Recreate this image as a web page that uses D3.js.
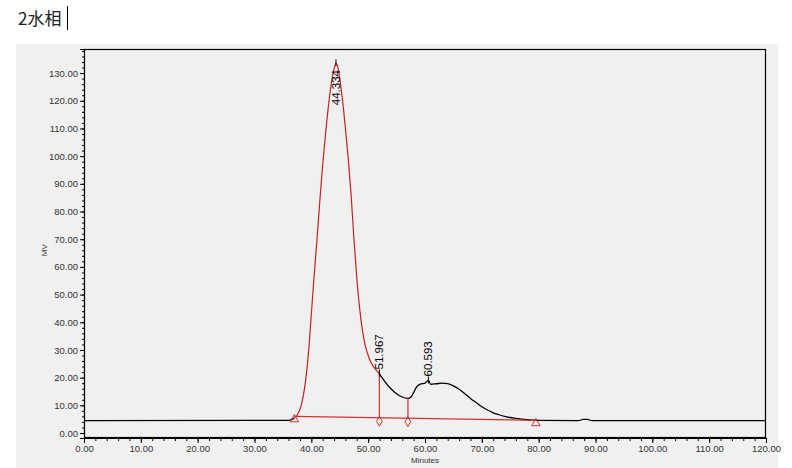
<!DOCTYPE html>
<html><head><meta charset="utf-8">
<script src="https://cdn.jsdelivr.net/npm/d3@7"></script>
<style>html,body{margin:0;padding:0;background:#fff;}svg{display:block;}</style>
</head><body>
<script>
// ---- data ----
const title = "2水相";
const xLabel = "Minutes";
const yLabel = "MV";
const xTicks = [0,10,20,30,40,50,60,70,80,90,100,110,120];
const yTicks = [0,10,20,30,40,50,60,70,80,90,100,110,120,130];
const times = [0,36,37,37.5,38,38.5,39,39.5,40,40.5,41,41.5,42,42.5,43,43.5,44,44.334,44.7,45,45.5,46,46.5,47,47.5,48,48.5,49,49.5,50,50.5,51,51.5,51.967,
  52.5,53,54,55,56,57,57.5,58,58.5,59,59.5,60,60.593,61,62,63,64,65,66,67,68,69,70,71,72,73,74,75,76,77,78,80,87,87.8,88.6,89.4,120];
const signal = [4.5,4.6,5.3,6.5,8.5,12.5,19,29,43,57,70,84,97,108,118,126,131.5,133.5,132,128,120,110,99,86,70,56,45,37,31.5,28,25.5,23.8,22.5,21.5,
  19.8,18.4,16,14.2,13,12.5,12.9,14.6,16.6,17.5,17.8,18,19,17.6,17.8,18,17.8,17,15.8,14.2,12.5,11,9.5,8.3,7.3,6.6,6.0,5.6,5.3,5.0,4.8,4.6,4.5,4.9,4.9,4.5,4.5];
const peakTimes = [44.334, 51.967, 60.593];
const peakLabels = ["44.334","51.967","60.593"];
const mainPeakStart = 37.0, mainPeakEnd = 51.967;
const dropTimes = [51.967, 57.0];
const baselineStart = [37.0, 6.0];
const baselineEnd = [79.5, 4.6];
const triangleTimes = [37.0, 79.5];
const diamondTimes = [51.967, 57.0];

// ---- layout ----
const W = 792, H = 468;
const svg = d3.select("body").append("svg").attr("width", W).attr("height", H);
svg.append("rect").attr("x",16).attr("y",44).attr("width",762).attr("height",H-44).attr("fill","#f0f0f0");
svg.append("text").attr("x",18).attr("y",25).attr("font-family","'Noto Sans CJK SC', sans-serif").attr("font-size",17).attr("fill","#222").text(title);
svg.append("line").attr("x1",67.5).attr("x2",67.5).attr("y1",6).attr("y2",30).attr("stroke","#000").attr("stroke-width",1);

const x = d3.scaleLinear().domain([0,120]).range([84,766]);
const y = d3.scaleLinear().domain([-1.8,138.7]).range([438,49]);

const font = "'Liberation Sans', Arial, sans-serif";
// frame
svg.append("rect").attr("x",84.5).attr("y",49.5).attr("width",681).attr("height",388).attr("fill","none").attr("stroke","#000").attr("stroke-width",1.2);

// axes
const minorX = d3.range(0,121,2);
const minorY = d3.range(0,139,2);
const gx = svg.append("g").attr("transform","translate(0,438)");
gx.call(d3.axisBottom(x).tickValues(minorX).tickSize(3).tickFormat(""));
gx.call(g=>g.select(".domain").remove());
const gx2 = svg.append("g").attr("transform","translate(0,438)");
gx2.call(d3.axisBottom(x).tickValues(xTicks).tickSize(5).tickPadding(2).tickFormat(d3.format(".2f")));
gx2.selectAll("text").attr("font-family",font).attr("font-size",9.5).attr("fill","#333");
gx2.select(".domain").attr("stroke","#000");

const gy = svg.append("g").attr("transform","translate(84,0)");
gy.call(d3.axisLeft(y).tickValues(minorY).tickSize(2).tickFormat(""));
gy.call(g=>g.select(".domain").remove());
const gy2 = svg.append("g").attr("transform","translate(84,0)");
gy2.call(d3.axisLeft(y).tickValues(yTicks).tickSize(4).tickPadding(2).tickFormat(d3.format(".2f")));
gy2.selectAll("text").attr("font-family",font).attr("font-size",9.5).attr("fill","#333");
gy2.select(".domain").attr("stroke","#000");

svg.append("text").attr("x",x(60)).attr("y",463).attr("text-anchor","middle").attr("font-family",font).attr("font-size",8).attr("fill","#333").text(xLabel);
svg.append("text").attr("transform",`translate(47,${y(66)}) rotate(-90)`).attr("text-anchor","middle").attr("font-family",font).attr("font-size",8).attr("fill","#333").text(yLabel);

// trace
const pts = times.map((t,i)=>[t,signal[i]]);
const line = d3.line().x(d=>x(d[0])).y(d=>y(d[1])).curve(d3.curveMonotoneX);
const interp = t => { for (let i=1;i<times.length;i++){ if (t<=times[i]){const f=(t-times[i-1])/(times[i]-times[i-1]); return signal[i-1]+f*(signal[i]-signal[i-1]);} } return signal[signal.length-1]; };
const blY = t => baselineStart[1] + (t-baselineStart[0])/(baselineEnd[0]-baselineStart[0])*(baselineEnd[1]-baselineStart[1]);

svg.append("path").datum(pts.filter(d=>d[0]<=mainPeakStart)).attr("d",line).attr("fill","none").attr("stroke","#000").attr("stroke-width",1.3);
svg.append("path").datum(pts.filter(d=>d[0]>=mainPeakEnd)).attr("d",line).attr("fill","none").attr("stroke","#000").attr("stroke-width",1.3);
svg.append("path").datum(pts.filter(d=>d[0]>=mainPeakStart && d[0]<=mainPeakEnd)).attr("d",line).attr("fill","none").attr("stroke","#cc1f1f").attr("stroke-width",1.2);

// integration baseline & drop lines
svg.append("line").attr("x1",x(baselineStart[0])).attr("y1",y(baselineStart[1])).attr("x2",x(baselineEnd[0])).attr("y2",y(baselineEnd[1])).attr("stroke","#d03030").attr("stroke-width",1.2);
dropTimes.forEach(t=>{
  svg.append("line").attr("x1",x(t)).attr("x2",x(t)).attr("y1",y(blY(t))).attr("y2",y(interp(t))).attr("stroke","#d03030").attr("stroke-width",1.2);
});
// markers
const tri = d3.symbol().type(d3.symbolTriangle).size(30);
const dia = d3.symbol().type(d3.symbolDiamond).size(28);
triangleTimes.forEach(t=>{
  svg.append("path").attr("d",tri).attr("transform",`translate(${x(t)},${y(blY(t))+3})`).attr("fill","none").attr("stroke","#d03030").attr("stroke-width",1);
});
diamondTimes.forEach(t=>{
  svg.append("path").attr("d",dia).attr("transform",`translate(${x(t)},${y(blY(t))+3.5})`).attr("fill","none").attr("stroke","#d03030").attr("stroke-width",1);
});

// peak labels
peakTimes.forEach((t,i)=>{
  const py = y(interp(t));
  svg.append("line").attr("x1",x(t)).attr("x2",x(t)).attr("y1",py-4).attr("y2",py+3).attr("stroke","#000").attr("stroke-width",1);
  const txt = svg.append("text").attr("font-family",font).attr("font-size",11.5).attr("fill","#000").text(peakLabels[i]);
  const len = txt.node().getComputedTextLength();
  let start = py - 4;
  if (start - len < 70) start = 70 + len;
  txt.attr("transform",`translate(${x(t)+4},${start}) rotate(-90)`);
});
</script>
</body></html>
